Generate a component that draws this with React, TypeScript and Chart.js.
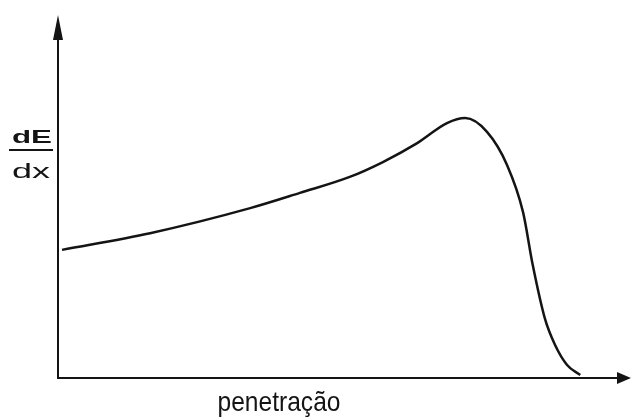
import React, { useEffect, useRef } from "react";
import { Chart, registerables } from "chart.js";

Chart.register(...registerables);

// Penetration depth (arbitrary units) and stopping power dE/dx (arbitrary units)
const depth = [0.7, 16.1, 33.6, 42.3, 51.0, 56.8, 62.8, 68.0, 71.2, 75.0, 78.5, 81.3, 83.0, 85.1, 86.9, 89.0, 91.3];
const stoppingPower = [35.3, 39.9, 46.8, 51.0, 55.4, 59.5, 64.7, 70.2, 71.6, 67.8, 58.7, 45.7, 31.1, 16.5, 9.1, 3.6, 0.8];

const xTitle = "penetração";
const yTitleTop = "dE";
const yTitleBottom = "dx";

const INK = "#141414";

// Writes text centred on cx, squeezed or stretched horizontally to the given width
function fitText(ctx: CanvasRenderingContext2D, text: string, cx: number, y: number, width: number) {
  const w = ctx.measureText(text).width;
  const k = width / w;
  ctx.save();
  ctx.translate(cx, y);
  ctx.scale(k, 1);
  ctx.textAlign = "center";
  ctx.fillText(text, 0, 0);
  ctx.restore();
}

// Draws the two arrowed axes and the axis captions
const axesPlugin = {
  id: "arrowAxes",
  afterDraw(chart: any) {
    const { ctx, scales } = chart;
    const x0 = scales.x.getPixelForValue(0);
    const y0 = scales.y.getPixelForValue(0);
    const yTop = scales.y.getPixelForValue(100);
    const xEnd = scales.x.getPixelForValue(100);
    ctx.save();
    ctx.strokeStyle = INK;
    ctx.fillStyle = INK;
    ctx.lineWidth = 2;
    ctx.beginPath();
    ctx.moveTo(x0, y0 + 1);
    ctx.lineTo(x0, yTop + 10);
    ctx.moveTo(x0 - 1, y0);
    ctx.lineTo(xEnd - 8, y0);
    ctx.stroke();
    // vertical arrow head
    ctx.beginPath();
    ctx.moveTo(x0, yTop);
    ctx.lineTo(x0 - 5, yTop + 25);
    ctx.lineTo(x0 + 5, yTop + 25);
    ctx.closePath();
    ctx.fill();
    // horizontal arrow head
    ctx.beginPath();
    ctx.moveTo(xEnd + 1, y0);
    ctx.lineTo(xEnd - 13, y0 - 6);
    ctx.lineTo(xEnd - 13, y0 + 6);
    ctx.closePath();
    ctx.fill();

    ctx.textBaseline = "alphabetic";

    // x caption
    ctx.font = "28px 'Liberation Sans', Arial, sans-serif";
    fitText(ctx, xTitle, 279, y0 + 33, 123);

    // y caption as a fraction
    ctx.font = "bold 19px 'Liberation Sans', Arial, sans-serif";
    fitText(ctx, yTitleTop, 32, 143, 40);
    ctx.font = "20px 'Liberation Sans', Arial, sans-serif";
    fitText(ctx, yTitleBottom, 31, 178, 38);
    ctx.lineWidth = 2;
    ctx.beginPath();
    ctx.moveTo(9, 150);
    ctx.lineTo(53, 150);
    ctx.stroke();
    ctx.restore();
  },
};

export default function App() {
  const canvasRef = useRef<HTMLCanvasElement | null>(null);

  useEffect(() => {
    if (!canvasRef.current) return;
    const chart = new Chart(canvasRef.current, {
      type: "line",
      data: {
        datasets: [
          {
            data: depth.map((x, i) => ({ x, y: stoppingPower[i] })),
            borderColor: INK,
            borderWidth: 2.5,
            pointRadius: 0,
            cubicInterpolationMode: "monotone",
            fill: false,
          },
        ],
      },
      options: {
        animation: false,
        responsive: false,
        events: [],
        layout: { padding: { left: 58, right: 1, top: 15, bottom: 40 } },
        plugins: { legend: { display: false }, tooltip: { enabled: false } },
        scales: {
          x: { type: "linear", min: 0, max: 100, display: false },
          y: { type: "linear", min: 0, max: 100, display: false },
        },
      },
      plugins: [axesPlugin],
    });
    return () => chart.destroy();
  }, []);

  return (
    <div style={{ position: "fixed", left: 0, top: 0, width: 631, height: 418, background: "#fff" }}>
      <canvas ref={canvasRef} width={631} height={418} />
    </div>
  );
}
